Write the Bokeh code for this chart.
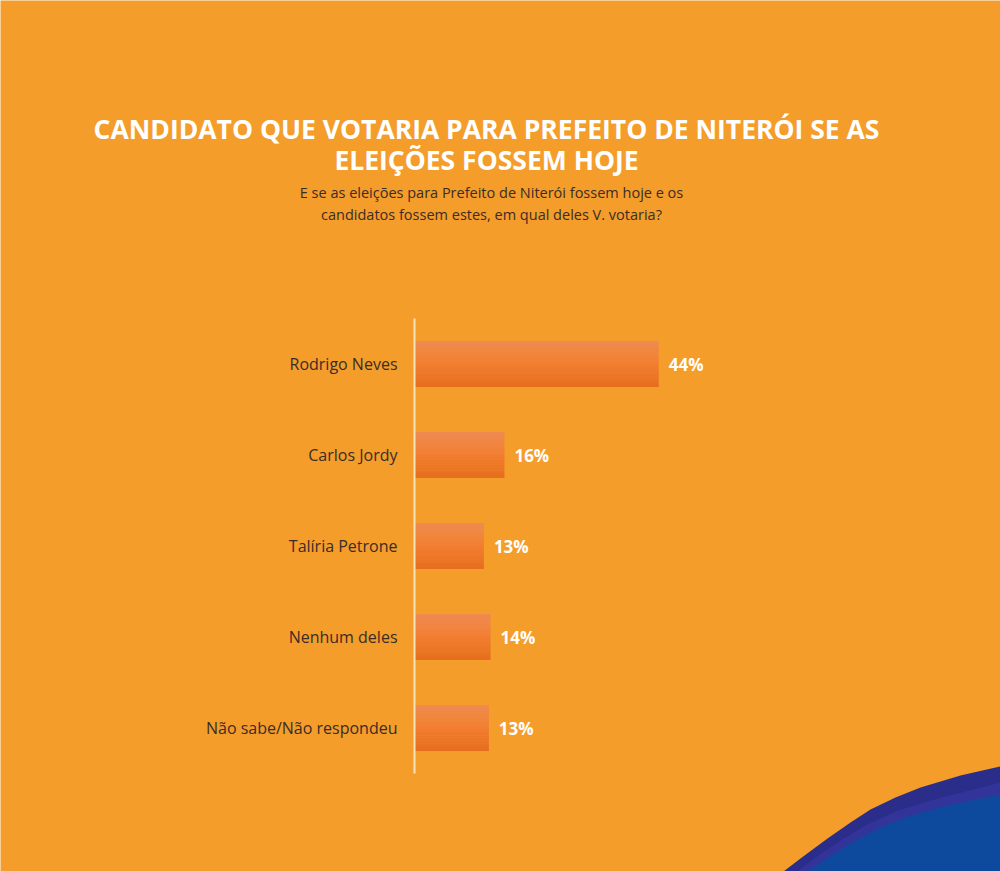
from bokeh.plotting import figure
from bokeh.models import Range1d, Label, PolyAnnotation, ColumnDataSource, FixedTicker
from bokeh.transform import dodge
from bokeh.core.properties import value
from bokeh.embed import file_html
from bokeh.resources import INLINE

# ---- data ----
categories = ["Rodrigo Neves", "Carlos Jordy", "Talíria Petrone", "Nenhum deles", "Não sabe/Não respondeu"]
values = [44.0, 16.2, 12.5, 13.7, 13.4]
labels = ["44%", "16%", "13%", "14%", "13%"]

title_lines = ["CANDIDATO QUE VOTARIA PARA PREFEITO DE NITERÓI SE AS", "ELEIÇÕES FOSSEM HOJE"]
subtitle_lines = ["E se as eleições para Prefeito de Niterói fossem hoje e os",
                  "candidatos fossem estes, em qual deles V. votaria?"]

BG = "#F49D2A"
W, H = 1000, 871

# layout of the plotting area in pixels
AXIS_PX = 414          # x pixel of the value 0 / axis line
PX_PER_UNIT = 5.55     # pixels per percentage point
TOP_CENTER_PX = 363.5  # centre of the first bar
ROW_PX = 91            # pixels per category row

n = len(categories)
ypos = [n - 1 - i for i in range(n)]
src = ColumnDataSource(dict(cat=categories, y=ypos, val=values, lab=labels))

x_start = -AXIS_PX / PX_PER_UNIT
x_end = (W - AXIS_PX) / PX_PER_UNIT
y_end = (n - 1) + TOP_CENTER_PX / ROW_PX
y_start = y_end - H / ROW_PX

p = figure(width=W, height=H,
           x_range=Range1d(x_start, x_end), y_range=Range1d(y_start, y_end),
           output_backend="svg", toolbar_location=None,
           min_border=0, min_border_left=0, min_border_right=0,
           min_border_top=0, min_border_bottom=0)
p.background_fill_color = BG
p.border_fill_color = BG
p.outline_line_color = None
p.xgrid.visible = False
p.ygrid.visible = False
p.xaxis.visible = False

ax = p.yaxis[0]
ax.fixed_location = 0
ax.bounds = (-0.5, n - 0.5)
ax.ticker = FixedTicker(ticks=ypos)
ax.major_label_overrides = {y: c for y, c in zip(ypos, categories)}
ax.axis_line_color = "#F8E2BD"
ax.axis_line_width = 2
ax.major_tick_line_color = None
ax.minor_tick_line_color = None
ax.major_tick_out = 0
ax.major_tick_in = 0
ax.minor_tick_out = 0
ax.major_label_text_font = "Open Sans"
ax.major_label_text_font_size = "16px"
ax.major_label_text_color = "#3A2C28"
ax.major_label_standoff = 17

# bars with a vertical gradient simulated by thin bands
def hex2rgb(h):
    h = h.lstrip("#")
    return tuple(int(h[i:i + 2], 16) for i in (0, 2, 4))

def lerp(c1, c2, t):
    a, b = hex2rgb(c1), hex2rgb(c2)
    return "#%02x%02x%02x" % tuple(round(a[i] + (b[i] - a[i]) * t) for i in range(3))

BAR_H = 0.505
N = 24
top_c, mid_c, bot_c = "#EF8B52", "#F27E31", "#E66D1D"
bh = BAR_H / N
for i in range(N):
    t = (i + 0.5) / N
    c = lerp(top_c, mid_c, t * 2) if t < 0.5 else lerp(mid_c, bot_c, (t - 0.5) * 2)
    off = BAR_H / 2 - (i + 0.5) * bh
    p.hbar(y=dodge("y", off), left=0, right="val", height=bh * 1.15,
           source=src, fill_color=c, line_color=None)

p.text(x="val", y="y", text="lab", source=src, x_offset=10,
       text_baseline="middle", text_align="left",
       text_font=value("Open Sans"), text_font_style="bold",
       text_font_size="17px", text_color="white")

# ---- titles (screen units: x from left, y from bottom of the canvas) ----
def sy(py):
    return H - py

for txt, py in zip(title_lines, [128, 159]):
    p.add_layout(Label(x=486, y=sy(py), x_units="screen", y_units="screen", text=txt,
                       text_align="center", text_baseline="middle",
                       text_font="Open Sans", text_font_style="bold",
                       text_font_size="26.5px", text_color="white"))
for txt, py in zip(subtitle_lines, [192, 214]):
    p.add_layout(Label(x=491, y=sy(py), x_units="screen", y_units="screen", text=txt,
                       text_align="center", text_baseline="middle",
                       text_font="Open Sans", text_font_size="14.5px", text_color="#3A2C28"))

# ---- decorative wave bottom-right ----
outer = [(783, 871), (800, 858), (827, 838), (850, 822), (870, 809), (895, 797), (920, 787),
         (960, 775), (1000, 766), (1000, 871)]
stripe = [(797, 871), (815, 857), (840, 840), (865, 825), (895, 811), (930, 800),
          (965, 791), (1000, 782), (1000, 871)]
inner = [(808, 871), (828, 857), (853, 841), (878, 828), (908, 816), (943, 806),
         (975, 799), (1000, 794), (1000, 871)]
for pts, col in [(outer, "#2B2D8A"), (stripe, "#32349A"), (inner, "#0D4A9E")]:
    p.add_layout(PolyAnnotation(xs=[a for a, b in pts], ys=[sy(b) for a, b in pts],
                                xs_units="screen", ys_units="screen",
                                fill_color=col, fill_alpha=1.0, line_color=None))

open("out.html", "w").write(file_html(p, INLINE))
